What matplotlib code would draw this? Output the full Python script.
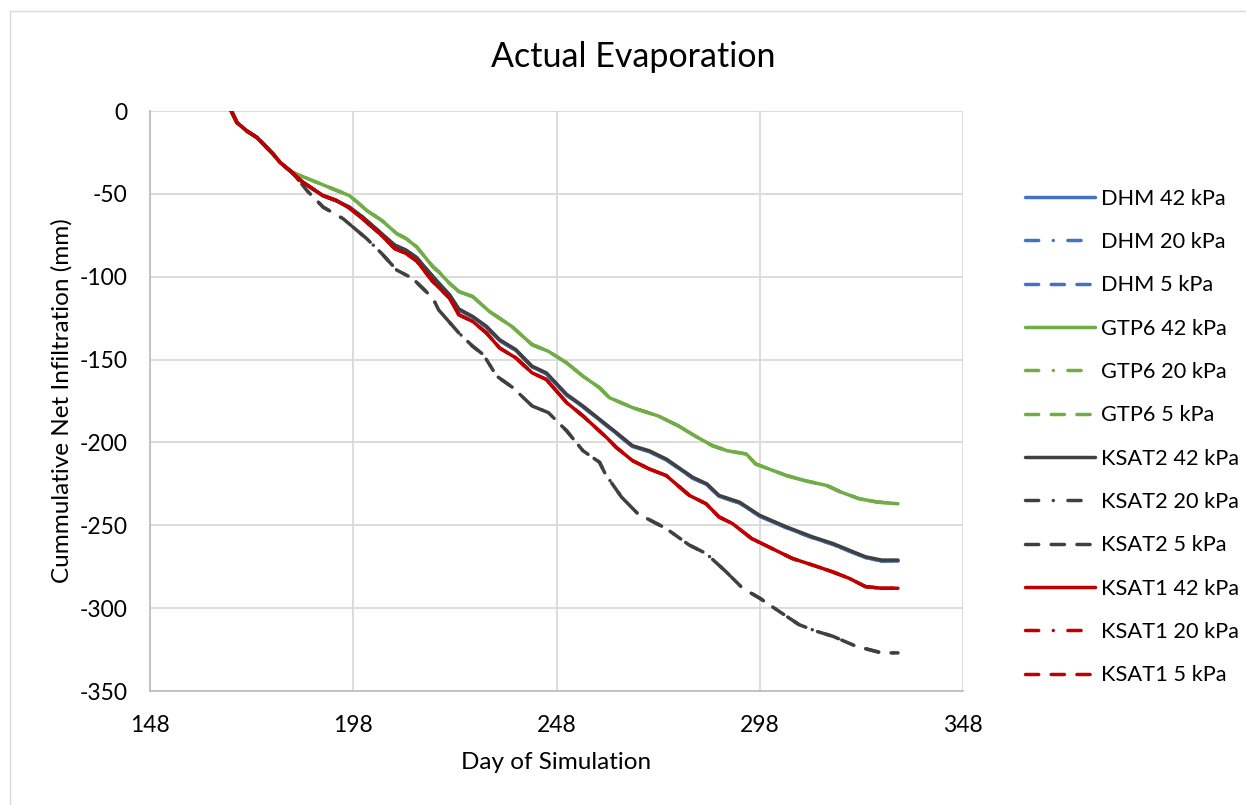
import matplotlib
matplotlib.use("Agg")
import matplotlib.pyplot as plt
from matplotlib.lines import Line2D
from matplotlib.patches import Rectangle

plt.rcParams["font.family"] = ["Lato", "DejaVu Sans"]
plt.rcParams["axes.unicode_minus"] = False

# ---- data: cumulative net infiltration (mm) against day of simulation ----
ksat1_days = [168, 169.4, 171.8, 174.3, 176.7, 178.3, 180, 182.4, 185.6, 190.5,
              193.8, 197, 200.3, 204.5, 208.2, 211, 213.6, 217.6, 221.7, 224,
              227.4, 230.8, 234, 238, 242, 245.5, 250.5, 254.5, 260.3, 262.7,
              266.7, 270.8, 275, 280.7, 284.8, 288, 291.3, 296, 301, 306, 311,
              315.8, 320, 324, 328, 332]
ksat1_vals = [0, -7, -12, -16, -22, -26, -31, -36, -43, -51,
              -54, -58.5, -65, -74, -83, -86, -90.5, -103, -113, -123,
              -127, -134, -143, -149, -158, -162, -176, -184, -197, -203,
              -211, -216, -220, -232, -237, -245, -249, -258, -264, -270, -274,
              -278, -282, -287, -288, -288]

ksat2_days = [168, 169.4, 171.8, 174.3, 176.7, 178.3, 180, 182.4, 185.6, 190.5,
              193.8, 197, 200.3, 204.5, 208.2, 211, 213.6, 217.6, 221.7, 224,
              227.4, 230.8, 234, 238, 242, 245.5, 250.5, 254.5, 258.6, 262.7,
              266.7, 270.8, 275, 281.5, 285, 288, 293, 298, 304.6, 311, 316,
              320, 324, 328, 332]
ksat2_42_vals = [0, -7, -12, -16, -22, -26, -31, -36, -43, -51,
                 -54, -58, -64, -73, -81, -84, -88.5, -100, -111, -119.5,
                 -124, -130, -138, -144, -154, -158, -171, -178, -186, -194,
                 -202, -205, -210, -221, -225, -232, -236, -244, -251, -257, -261,
                 -265, -269, -271, -271]
dhm_vals = [0, -7, -12, -16, -22, -26, -31, -36, -43, -51,
            -54, -58, -64, -73, -81, -84, -88.5, -100, -111, -120,
            -124.5, -130.5, -138.5, -144.5, -154.5, -158.5, -171.5, -178.5, -186.5, -194.5,
            -202.5, -205.5, -210.5, -221.5, -225.5, -232.5, -236.5, -244.5, -251.5, -257.5, -261.5,
            -265.5, -269.5, -271.5, -271.5]

ksat2_wet_days = [168, 169.4, 171.8, 174.3, 176.7, 178.3, 180, 183, 186.6, 190.6,
                  195.5, 201.3, 205, 208.7, 212.6, 217.6, 219, 224, 227.4, 230,
                  233.3, 237.3, 242, 246, 250.5, 254.5, 258.6, 260, 264, 268, 275,
                  280.7, 284.8, 289.7, 293.8, 298, 302.8, 307.7, 312, 316, 321.7,
                  328, 332]
ksat2_wet_vals = [0, -7, -12, -16, -22, -26, -31, -37, -48, -58,
                  -65, -77, -86, -96, -101, -113, -120, -134, -142, -147,
                  -160, -167, -178, -182, -193, -205, -212, -219, -233, -243, -252,
                  -262, -267, -278, -288, -294, -302, -310, -314, -317, -323,
                  -327, -327]

gtp6_days = [168, 169.4, 171.8, 174.3, 176.7, 178.3, 180, 183, 186, 189, 194,
             197, 199, 201.3, 205, 208.7, 211, 213.6, 217.6, 219, 221.7, 224,
             227.4, 231.5, 237, 242, 246, 250.5, 254.5, 258.6, 261, 266.7, 273,
             278, 282, 286.4, 290, 294.7, 297, 304.6, 309, 314.5, 318, 322.5,
             327, 332]
gtp6_vals = [0, -7, -12, -16, -22, -26, -31, -37, -40, -43, -48,
             -51, -55, -60, -66, -74, -77, -82, -94, -97, -104, -109,
             -112, -121, -130, -141, -145, -152, -160, -167, -173, -179, -184,
             -190, -196, -202, -205, -207, -213, -220, -223, -226, -230, -234,
             -236, -237]

series_names = ["DHM 42 kPa", "DHM 20 kPa", "DHM 5 kPa",
                "GTP6 42 kPa", "GTP6 20 kPa", "GTP6 5 kPa",
                "KSAT2 42 kPa", "KSAT2 20 kPa", "KSAT2 5 kPa",
                "KSAT1 42 kPa", "KSAT1 20 kPa", "KSAT1 5 kPa"]
x_ticks = [148, 198, 248, 298, 348]
y_ticks = [0, -50, -100, -150, -200, -250, -300, -350]

# ---- styling ----
BLUE, GREEN, DARK, RED = "#4472C4", "#70AD47", "#404040", "#C00000"
SOLID = "-"
DASHDOT = (0, (3.8, 4.2, 0.01, 4.2))
DASHED = (0, (3.8, 3.6))
LW = 2.5
FS = 16.5
LEG_FS = 15.7

series = [
    (ksat2_days, dhm_vals, BLUE, SOLID),
    (ksat2_days, dhm_vals, BLUE, DASHDOT),
    (ksat2_days, dhm_vals, BLUE, DASHED),
    (gtp6_days, gtp6_vals, GREEN, SOLID),
    (gtp6_days, gtp6_vals, GREEN, DASHDOT),
    (gtp6_days, gtp6_vals, GREEN, DASHED),
    (ksat2_days, ksat2_42_vals, DARK, SOLID),
    (ksat2_wet_days, ksat2_wet_vals, DARK, DASHDOT),
    (ksat2_wet_days, ksat2_wet_vals, DARK, DASHED),
    (ksat1_days, ksat1_vals, RED, SOLID),
    (ksat1_days, ksat1_vals, RED, DASHDOT),
    (ksat1_days, ksat1_vals, RED, DASHED),
]

W, H = 1246, 805
fig = plt.figure(figsize=(W / 100, H / 100), dpi=100)
fig.patches.append(Rectangle((10 / W, -0.1), 1.2, 1.1 - 11 / H,
                             transform=fig.transFigure, fill=False,
                             edgecolor="#D9D9D9", linewidth=1.0))

ax = fig.add_axes([150 / W, 1 - 691 / H, (963 - 150) / W, (691 - 111) / H])

handles = []
for (d, v, c, ls), name in zip(series, series_names):
    ax.plot(d, v, color=c, linestyle=ls, linewidth=LW,
            solid_capstyle="round", dash_capstyle="round",
            solid_joinstyle="round", dash_joinstyle="round")
    handles.append(Line2D([], [], color=c, linestyle=ls, linewidth=LW,
                          dash_capstyle="round", solid_capstyle="round",
                          label=name))

ax.set_xlim(148, 348)
ax.set_ylim(-350, 0)
ax.set_xticks(x_ticks)
ax.set_yticks(y_ticks)
ax.grid(True, color="#D9D9D9", linewidth=1.3)
ax.set_axisbelow(True)
for side in ["top", "right"]:
    ax.spines[side].set_visible(False)
for side in ["left", "bottom"]:
    ax.spines[side].set_color("#BFBFBF")
    ax.spines[side].set_linewidth(1.3)
ax.tick_params(length=0, labelsize=FS, colors="#000000")
ax.tick_params(axis="y", pad=16)
ax.tick_params(axis="x", pad=17)

ax.set_xlabel("Day of Simulation", fontsize=17.5)
ax.set_ylabel("Cummulative Net Infiltration (mm)", fontsize=17.5)
ax.xaxis.set_label_coords(0.5, (691 - 762) / 580)
ax.xaxis.label.set_va("center")
ax.yaxis.set_label_coords((62 - 150) / 813, 0.5)
ax.yaxis.label.set_va("center")
ax.yaxis.label.set_ha("center")
fig.text(633 / W, 1 - 57 / H, "Actual Evaporation", fontsize=24.5,
         ha="center", va="center")

fig.legend(handles=handles, loc="center left",
           bbox_to_anchor=(1016 / W, 1 - 437 / H), frameon=False,
           fontsize=LEG_FS, handlelength=3.2, handletextpad=0.32,
           labelspacing=1.07, borderaxespad=0)

fig.savefig("out.png", dpi=100)
